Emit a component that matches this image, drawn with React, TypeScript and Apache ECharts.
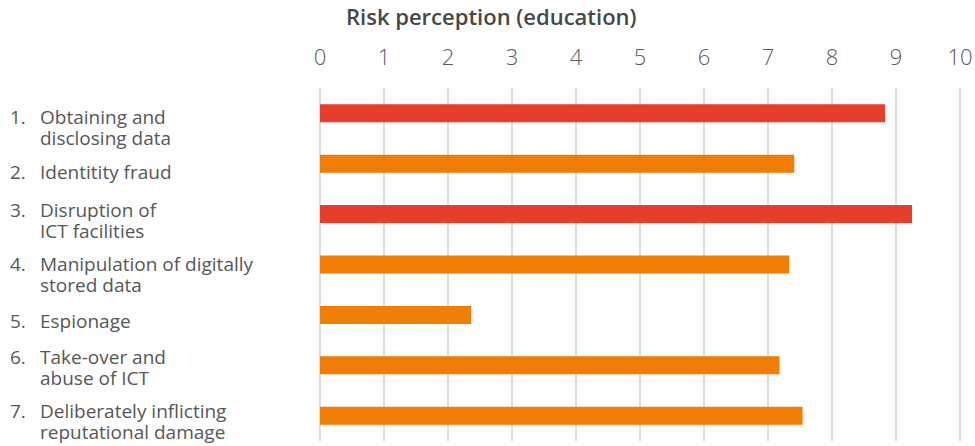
import React, { useEffect, useRef } from "react";
import * as echarts from "echarts";

const numbers = ["1.", "2.", "3.", "4.", "5.", "6.", "7."];
const categories = [
  "Obtaining and\ndisclosing data",
  "Identitity fraud",
  "Disruption of\nICT facilities",
  "Manipulation of digitally\nstored data",
  "Espionage",
  "Take-over and\nabuse of ICT",
  "Deliberately inflicting\nreputational damage",
];
const values = [8.83, 7.41, 9.25, 7.33, 2.36, 7.18, 7.54];
const highRisk = [true, false, true, false, false, false, false];
const xTicks = [0, 10];
const titleText = "Risk perception (education)";

// small per-label vertical nudges (styling, px) to mimic the original's label placement
const labelNudge = [8, 2, 0, 4, 0, -4, 0];

const RED = "#e63e2d";
const ORANGE = "#f07d05";
const FONT = "'Open Sans', 'Noto Sans', sans-serif";

export default function App() {
  const ref = useRef<HTMLDivElement>(null);
  useEffect(() => {
    if (!ref.current) return;
    const chart = echarts.init(ref.current, undefined, { renderer: "svg" });
    const labelRich = {
      n: { width: 30, fontFamily: FONT, fontSize: 19, color: "#575757", lineHeight: 21 },
      t: { fontFamily: FONT, fontSize: 19, color: "#575757", lineHeight: 21 },
    };
    chart.setOption({
      animation: false,
      backgroundColor: "#ffffff",
      title: {
        text: titleText,
        left: 341,
        top: 0,
        textStyle: { fontFamily: FONT, fontSize: 22, fontWeight: 600, color: "#474747" },
      },
      grid: {
        left: 320,
        right: 15,
        top: 88,
        bottom: 5,
        containLabel: false,
        outerBoundsMode: "none",
      },
      xAxis: {
        type: "value",
        position: "top",
        min: xTicks[0],
        max: xTicks[1],
        interval: 1,
        axisLine: { show: false },
        axisTick: { show: false },
        axisLabel: {
          margin: 21,
          fontFamily: FONT,
          fontSize: 22,
          fontWeight: 300,
          color: "#5a5a5a",
        },
        splitLine: { show: true, lineStyle: { color: "#dddddd", width: 2 } },
      },
      yAxis: {
        type: "category",
        inverse: true,
        data: categories.map((c, i) => ({
          value: c,
          textStyle: {
            align: "left",
            padding: [12 + 2 * labelNudge[i], 0, 0, 0],
            rich: labelRich,
          },
        })),
        axisLine: { show: false },
        axisTick: { show: false },
        axisLabel: {
          align: "left",
          margin: 310,
          formatter: (value: string, idx: number) => {
            const lines = value.split("\n");
            return lines
              .map((l, i) => `{n|${i === 0 ? numbers[idx] : ""}}{t|${l}}`)
              .join("\n");
          },
          rich: labelRich,
        },
      },
      series: [
        {
          type: "bar",
          barWidth: 18,
          data: values.map((v, i) => ({
            value: v,
            itemStyle: { color: highRisk[i] ? RED : ORANGE },
          })),
        },
      ],
    });
    return () => chart.dispose();
  }, []);
  return (
    <div
      ref={ref}
      style={{ position: "fixed", left: 0, top: 0, width: 975, height: 446 }}
    />
  );
}
